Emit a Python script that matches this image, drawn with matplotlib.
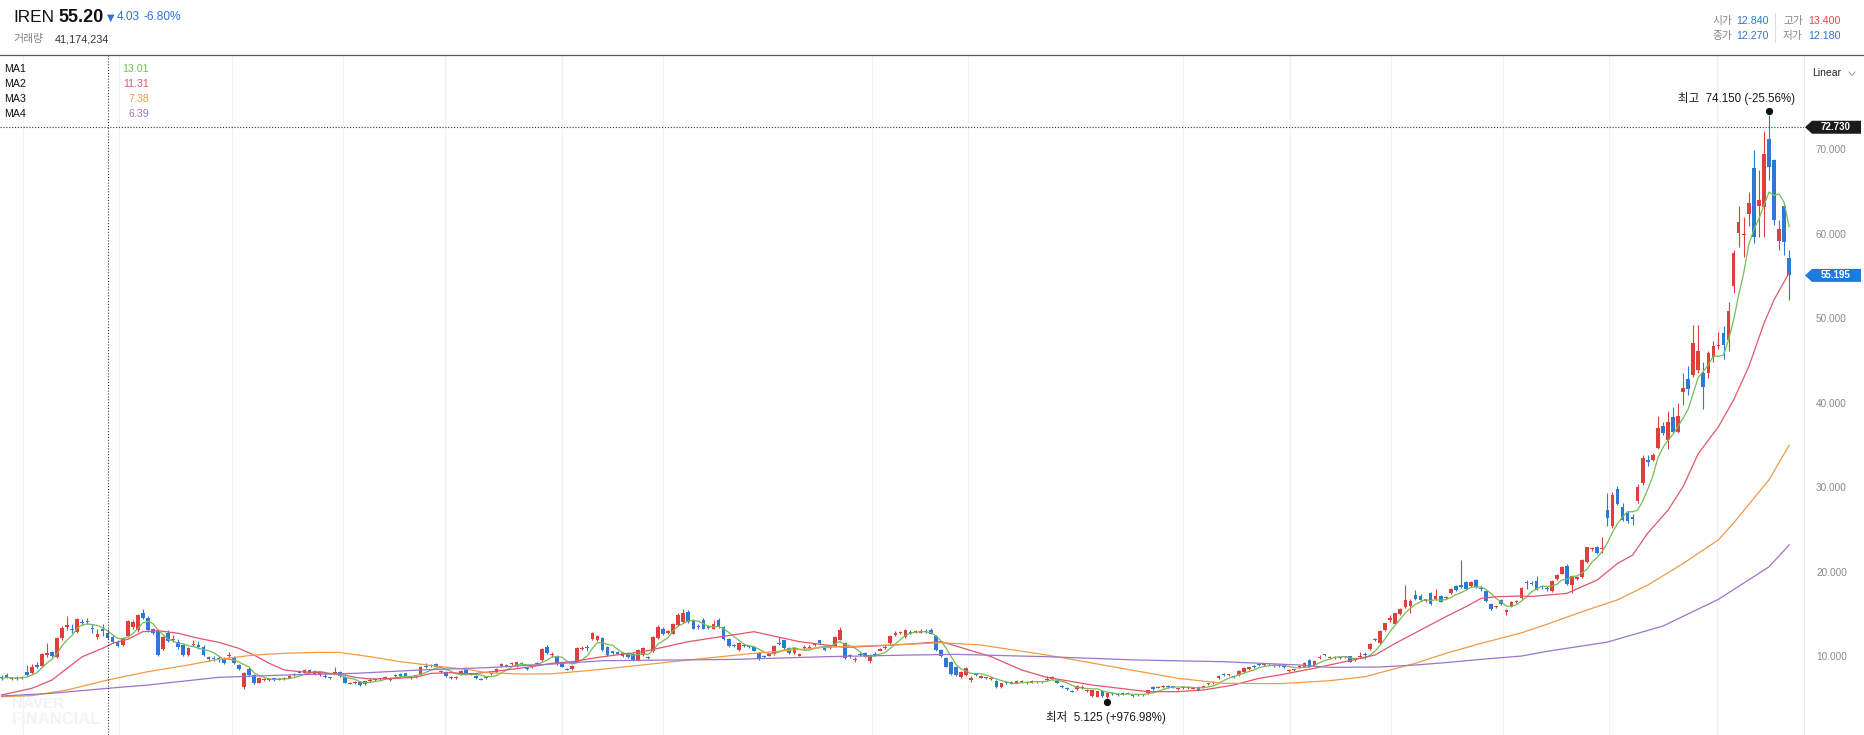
import numpy as np
import pandas as pd
import matplotlib
matplotlib.use('Agg')
import matplotlib.pyplot as plt
from matplotlib.patches import Polygon
from matplotlib.lines import Line2D
from matplotlib.transforms import offset_copy

plt.rcParams['font.family'] = ['Liberation Sans', 'Noto Sans CJK KR', 'DejaVu Sans']

# daily candles, oldest first
opens = [
    7.7, 7.9, 7.4, 7.6, 7.5, 8.3, 8.2, 9.1, 9.0, 10.3,
    10.6, 10.0, 12.3, 13.6, 13.4, 13.0, 14.2, 14.3, 13.5, 12.4,
    13.3, 12.84, 12.4, 11.8, 11.45, 12.5, 13.6, 13.2, 15.3, 14.7,
    13.3, 13.1, 11.0, 12.9, 12.0, 11.8, 11.4, 10.3, 11.4, 11.4,
    11.2, 10.0, 9.9, 9.9, 9.8, 10.1, 10.0, 9.1, 6.5, 8.6,
    7.9, 7.0, 7.35, 7.35, 7.5, 7.45, 7.45, 7.6, 7.9, 8.3,
    8.2, 8.5, 8.0, 7.9, 7.8, 7.6, 8.1, 8.3, 7.7, 6.85,
    6.95, 7.1, 6.8, 7.25, 7.35, 7.45, 7.5, 7.3, 7.75, 8.0,
    8.1, 7.55, 7.75, 8.0, 8.95, 8.95, 9.2, 8.4, 8.3, 7.55,
    7.55, 8.0, 8.6, 8.1, 7.8, 7.45, 7.5, 8.0, 8.3, 9.0,
    9.1, 9.2, 9.0, 9.25, 8.7, 8.85, 9.35, 9.7, 11.2, 10.3,
    10.2, 9.2, 8.65, 8.6, 9.5, 11.0, 11.2, 12.2, 12.0, 12.3,
    11.2, 10.7, 10.6, 10.1, 10.5, 10.4, 9.7, 10.3, 10.05, 10.7,
    12.3, 13.4, 12.9, 12.8, 13.8, 14.2, 15.4, 14.4, 13.75, 14.4,
    13.5, 13.4, 14.4, 13.6, 12.2, 11.45, 10.9, 11.45, 11.35, 11.2,
    10.5, 10.15, 10.2, 10.4, 11.55, 12.0, 11.1, 10.5, 10.2, 11.25,
    11.1, 11.4, 12.0, 11.3, 11.1, 11.3, 12.05, 11.65, 10.25, 9.7,
    10.45, 10.5, 9.6, 10.45, 10.8, 11.1, 11.65, 12.6, 12.85, 12.4,
    13.0, 12.95, 12.9, 13.1, 13.2, 12.5, 10.9, 9.9, 9.5, 8.9,
    7.7, 7.9, 7.3, 8.0, 7.6, 7.6, 7.45, 7.2, 6.5, 7.0,
    7.05, 7.0, 7.1, 7.1, 6.95, 7.05, 7.05, 7.3, 7.45, 7.2,
    6.6, 6.35, 6.05, 6.2, 6.4, 6.05, 5.4, 5.35, 6.0, 5.35,
    5.7, 5.65, 5.8, 5.8, 5.45, 5.5, 5.6, 5.8, 6.5, 6.4,
    6.5, 6.6, 6.55, 6.25, 6.4, 6.4, 6.3, 6.5, 6.5, 6.8,
    6.95, 7.5, 8.0, 7.85, 7.8, 7.9, 8.3, 8.65, 8.95, 9.15,
    9.05, 9.25, 9.0, 9.05, 8.95, 8.4, 8.45, 8.8, 8.85, 9.7,
    9.1, 9.95, 10.35, 9.95, 9.95, 9.95, 10.05, 10.1, 9.65, 10.0,
    10.35, 11.0, 12.1, 11.7, 13.2, 14.4, 14.0, 15.1, 15.9, 16.1,
    17.4, 17.3, 16.7, 17.6, 16.9, 17.2, 17.0, 17.6, 18.4, 18.5,
    18.9, 18.4, 19.1, 18.2, 17.9, 16.3, 15.9, 16.8, 15.4, 16.0,
    16.55, 17.0, 18.9, 18.8, 19.0, 18.4, 18.2, 17.8, 19.3, 19.9,
    20.8, 18.5, 19.3, 19.5, 21.3, 22.8, 23.1, 22.8, 27.4, 25.5,
    29.9, 27.8, 27.1, 26.6, 28.5, 30.6, 33.4, 33.3, 34.8, 37.4,
    35.7, 38.4, 36.7, 41.4, 42.9, 43.4, 44.0, 43.6, 43.7, 45.5,
    46.8, 48.4, 47.6, 53.9, 60.2, 60.0, 62.5, 67.9, 63.4, 63.3,
    71.3, 68.8, 59.3, 63.4, 57.2]
highs = [
    7.9, 8.2, 7.7, 7.8, 7.8, 9.1, 9.2, 9.4, 10.5, 11.7,
    10.8, 12.4, 13.7, 14.9, 13.9, 14.6, 14.5, 14.6, 14.0, 13.3,
    14.0, 13.4, 12.6, 12.0, 12.4, 14.4, 14.4, 15.1, 15.7, 14.9,
    13.5, 13.3, 12.5, 13.2, 12.6, 12.2, 11.6, 11.2, 12.0, 11.9,
    11.4, 10.2, 10.1, 10.1, 10.0, 10.6, 10.2, 9.2, 8.3, 8.9,
    8.0, 7.7, 7.6, 7.6, 7.6, 7.6, 7.7, 7.9, 8.2, 8.5,
    8.6, 8.6, 8.5, 8.4, 8.0, 7.7, 8.9, 8.4, 7.8, 7.1,
    7.2, 7.2, 7.2, 7.5, 7.55, 7.55, 7.75, 7.7, 8.0, 8.1,
    8.2, 7.75, 7.95, 9.0, 9.3, 9.2, 9.3, 8.5, 8.4, 7.75,
    7.75, 8.5, 8.8, 8.2, 7.9, 7.55, 7.7, 8.2, 8.7, 9.3,
    9.2, 9.5, 9.5, 9.4, 8.8, 9.0, 9.5, 11.1, 11.4, 10.6,
    10.3, 9.3, 8.75, 9.1, 11.2, 11.3, 11.5, 13.0, 12.6, 12.4,
    11.3, 10.8, 10.8, 10.6, 10.6, 10.5, 11.0, 11.2, 10.2, 12.5,
    13.8, 13.6, 13.2, 14.1, 15.2, 15.7, 15.6, 14.5, 13.9, 14.6,
    13.8, 14.4, 14.6, 13.7, 12.3, 11.6, 11.8, 11.6, 11.5, 11.3,
    10.6, 10.3, 10.5, 11.4, 12.4, 12.1, 11.2, 11.2, 10.5, 11.4,
    11.4, 11.7, 12.1, 11.4, 11.4, 12.5, 13.6, 11.8, 10.4, 10.0,
    10.6, 10.6, 10.4, 10.6, 11.1, 11.4, 12.6, 13.1, 13.1, 13.4,
    13.2, 13.2, 13.3, 13.3, 13.5, 12.6, 11.0, 10.0, 9.6, 9.0,
    8.4, 8.8, 7.8, 8.1, 7.9, 7.7, 7.65, 7.3, 6.95, 7.15,
    7.2, 7.3, 7.3, 7.2, 7.3, 7.25, 7.25, 7.8, 7.8, 7.3,
    6.7, 6.45, 6.15, 6.7, 6.7, 6.25, 6.15, 6.05, 6.1, 5.85,
    5.85, 5.8, 5.9, 5.9, 5.65, 5.7, 5.7, 6.15, 6.6, 6.6,
    6.75, 6.7, 6.65, 6.4, 6.55, 6.55, 6.45, 6.6, 6.7, 7.0,
    7.15, 7.9, 8.1, 8.05, 7.9, 8.5, 8.8, 8.9, 9.1, 9.3,
    9.25, 9.35, 9.25, 9.15, 9.05, 8.55, 8.65, 9.05, 9.4, 9.8,
    9.7, 10.3, 10.45, 10.15, 10.15, 10.05, 10.2, 10.2, 9.8, 10.6,
    10.6, 11.65, 12.3, 13.2, 14.1, 15.0, 15.3, 15.8, 18.5, 16.9,
    18.0, 17.5, 16.95, 17.7, 18.1, 17.4, 17.25, 18.2, 18.5, 21.5,
    19.0, 19.0, 19.3, 18.4, 18.0, 16.4, 16.1, 16.9, 15.7, 16.7,
    16.8, 18.3, 19.1, 19.0, 19.6, 18.6, 18.4, 19.1, 19.8, 20.8,
    21.0, 19.7, 19.6, 21.6, 23.1, 23.1, 23.2, 24.2, 29.4, 29.6,
    30.3, 28.3, 27.3, 27.0, 30.5, 33.9, 34.0, 34.2, 38.5, 37.8,
    39.1, 39.6, 40.1, 43.6, 44.5, 49.3, 49.3, 45.0, 46.2, 47.4,
    48.5, 49.2, 52.1, 58.2, 63.4, 62.1, 65.1, 70.0, 67.7, 72.3,
    74.15, 69.0, 61.8, 63.6, 58.2]
lows = [
    7.3, 7.6, 7.3, 7.3, 7.4, 7.8, 8.0, 8.7, 8.9, 10.0,
    10.0, 9.9, 12.0, 13.2, 12.9, 12.9, 13.8, 13.9, 12.9, 12.2,
    12.5, 12.18, 11.7, 11.2, 11.3, 12.4, 13.3, 13.0, 14.5, 13.0,
    12.8, 10.2, 10.9, 11.8, 11.8, 11.0, 10.2, 10.1, 11.3, 11.0,
    10.2, 9.6, 9.6, 9.5, 9.2, 9.9, 9.2, 8.5, 6.2, 7.8,
    6.8, 6.9, 7.2, 7.2, 7.25, 7.3, 7.35, 7.5, 7.8, 8.1,
    8.1, 8.1, 7.9, 7.8, 7.6, 7.4, 8.0, 7.7, 6.9, 6.8,
    6.85, 6.6, 6.7, 7.1, 7.2, 7.3, 7.4, 7.2, 7.65, 7.7,
    7.7, 7.45, 7.6, 7.9, 8.7, 8.8, 8.8, 8.2, 7.7, 7.45,
    7.45, 7.9, 8.1, 7.9, 7.4, 7.3, 7.4, 7.9, 8.2, 8.9,
    8.9, 9.1, 8.9, 9.1, 8.5, 8.75, 9.2, 9.6, 10.4, 10.0,
    9.1, 8.8, 8.5, 8.5, 9.4, 10.9, 10.7, 12.0, 11.9, 10.8,
    10.2, 10.4, 10.35, 10.0, 9.9, 9.6, 9.6, 10.2, 9.8, 10.6,
    12.2, 12.6, 12.8, 12.7, 13.7, 14.1, 14.1, 13.3, 13.4, 13.3,
    13.4, 13.3, 13.5, 12.1, 11.2, 11.2, 10.8, 11.2, 11.1, 10.7,
    9.7, 9.9, 10.1, 10.3, 11.5, 11.0, 10.4, 10.4, 10.1, 11.0,
    11.0, 11.3, 11.6, 10.8, 11.0, 11.2, 12.0, 9.8, 9.9, 9.5,
    10.2, 10.0, 9.3, 10.2, 10.7, 11.0, 11.6, 12.5, 12.7, 12.3,
    12.7, 12.85, 12.85, 12.9, 12.7, 10.8, 10.0, 8.8, 7.9, 7.8,
    7.6, 7.8, 7.1, 7.8, 7.5, 7.4, 7.35, 6.4, 6.4, 6.85,
    6.8, 6.95, 7.0, 6.8, 6.9, 6.95, 6.95, 7.2, 7.4, 6.9,
    6.4, 6.15, 5.85, 6.1, 6.3, 5.95, 5.3, 5.25, 5.3, 5.125,
    5.5, 5.45, 5.55, 5.6, 5.35, 5.4, 5.45, 5.7, 6.15, 6.35,
    6.4, 6.4, 6.4, 6.15, 6.3, 6.3, 6.2, 6.0, 6.4, 6.7,
    6.85, 7.4, 7.8, 7.75, 7.6, 7.8, 8.2, 8.55, 8.75, 9.0,
    8.95, 9.05, 8.9, 8.85, 8.75, 8.3, 8.35, 8.7, 8.8, 8.85,
    9.0, 9.85, 10.1, 9.85, 9.85, 9.8, 9.95, 9.4, 9.55, 9.9,
    9.8, 10.9, 11.9, 11.6, 13.1, 14.2, 13.9, 15.0, 15.8, 15.2,
    16.8, 16.7, 16.6, 16.2, 16.8, 16.5, 16.9, 17.5, 17.9, 18.2,
    18.0, 18.3, 18.2, 17.9, 16.6, 15.6, 15.8, 16.2, 15.0, 15.9,
    16.4, 16.9, 18.1, 18.5, 18.0, 18.1, 17.9, 17.7, 19.2, 19.8,
    18.6, 17.6, 19.2, 19.4, 21.2, 22.6, 22.2, 22.4, 25.5, 25.3,
    28.0, 26.1, 25.9, 25.7, 28.3, 30.4, 32.6, 33.2, 34.6, 36.3,
    34.6, 36.5, 36.6, 39.8, 41.0, 43.2, 43.6, 39.4, 43.0, 44.9,
    46.5, 45.3, 46.3, 53.1, 58.6, 57.4, 61.0, 59.0, 59.8, 59.8,
    66.5, 61.2, 58.2, 57.6, 52.3]
closes = [
    7.5, 7.7, 7.55, 7.45, 7.7, 7.9, 8.9, 8.9, 10.4, 10.5,
    10.2, 12.3, 13.5, 13.8, 13.2, 14.5, 14.1, 14.2, 13.3, 12.75,
    13.1, 12.27, 11.85, 11.3, 12.3, 14.3, 14.2, 15.0, 14.6, 13.2,
    12.9, 10.3, 12.4, 11.95, 12.2, 11.2, 10.3, 11.1, 11.6, 11.2,
    10.3, 9.8, 9.75, 9.7, 9.3, 10.3, 9.3, 8.6, 8.2, 7.9,
    6.9, 7.6, 7.45, 7.45, 7.35, 7.35, 7.55, 7.75, 8.05, 8.2,
    8.5, 8.2, 8.4, 8.3, 7.7, 7.5, 8.25, 7.8, 7.0, 6.95,
    7.05, 6.7, 7.2, 7.35, 7.45, 7.38, 7.62, 7.6, 7.85, 7.8,
    7.8, 7.65, 7.85, 8.9, 8.85, 9.05, 8.9, 8.3, 7.8, 7.65,
    7.68, 8.4, 8.2, 8.0, 7.5, 7.35, 7.6, 8.1, 8.6, 9.15,
    9.0, 9.35, 9.4, 9.15, 8.6, 8.95, 9.25, 11.0, 10.5, 10.45,
    9.2, 8.9, 8.55, 9.0, 11.1, 11.15, 11.05, 12.9, 12.5, 10.9,
    10.3, 10.55, 10.45, 10.5, 10.0, 9.7, 10.9, 11.1, 9.9, 12.4,
    13.6, 12.7, 13.1, 14.0, 15.0, 15.2, 14.2, 13.4, 13.6, 13.4,
    13.65, 14.0, 13.6, 12.2, 11.3, 11.3, 11.7, 11.3, 11.2, 10.8,
    9.8, 10.0, 10.35, 11.3, 11.7, 11.1, 10.5, 11.1, 10.35, 11.1,
    11.25, 11.55, 11.65, 10.9, 11.25, 12.4, 13.2, 9.9, 10.1, 9.85,
    10.3, 10.1, 10.3, 10.3, 10.95, 11.25, 12.5, 12.9, 12.95, 13.2,
    12.75, 13.05, 13.1, 13.0, 12.75, 10.9, 10.1, 8.9, 8.0, 7.9,
    8.3, 8.7, 7.6, 7.9, 7.75, 7.5, 7.55, 6.5, 6.9, 6.95,
    6.85, 7.2, 7.2, 6.9, 7.2, 7.15, 7.12, 7.45, 7.7, 7.0,
    6.5, 6.25, 5.95, 6.6, 6.5, 6.15, 6.1, 6.0, 5.4, 5.75,
    5.6, 5.55, 5.7, 5.7, 5.55, 5.6, 5.5, 6.1, 6.2, 6.5,
    6.65, 6.5, 6.45, 6.35, 6.5, 6.5, 6.4, 6.1, 6.6, 6.9,
    7.05, 7.8, 7.9, 7.95, 7.7, 8.4, 8.7, 8.8, 8.85, 9.05,
    9.15, 9.15, 9.1, 8.95, 8.85, 8.48, 8.55, 8.95, 9.3, 8.9,
    9.6, 10.05, 10.25, 10.05, 10.05, 9.88, 10.15, 9.5, 9.72, 10.1,
    10.25, 11.6, 12.0, 13.1, 14.05, 14.6, 15.2, 15.7, 16.8, 16.7,
    16.9, 16.8, 16.85, 16.3, 17.2, 16.6, 17.15, 18.1, 18.0, 18.35,
    18.1, 18.9, 18.3, 18.05, 16.7, 15.7, 16.0, 16.3, 15.55, 16.6,
    16.65, 18.2, 18.75, 18.65, 18.1, 18.3, 18.1, 19.0, 19.7, 20.7,
    18.7, 19.6, 19.45, 21.5, 23.0, 22.95, 22.3, 22.95, 26.5, 29.2,
    28.2, 26.2, 26.1, 26.4, 30.2, 33.6, 33.1, 33.9, 37.1, 36.5,
    37.8, 36.7, 38.6, 41.9, 41.8, 47.2, 46.2, 42.0, 46.0, 46.9,
    47.0, 47.0, 51.0, 57.8, 61.5, 60.15, 63.8, 59.8, 64.1, 69.6,
    68.0, 61.8, 60.7, 59.1, 55.2]

# moving averages (candle index, value)
ma2_idx = [0, 6, 10, 13, 16, 20, 22, 25, 28, 31, 35, 39, 43, 47, 50, 53, 56, 59, 63, 67,
           70, 73, 78, 82, 85, 89, 93, 97, 101, 105, 109, 113, 117, 119, 127, 136, 149, 158,
           167, 173, 180, 186, 189, 196, 202, 207, 216, 227, 233, 238, 244, 249, 253, 260,
           266, 272, 276, 281, 286, 290, 293, 296, 301, 303, 310, 313, 316, 320, 323, 326,
           330, 333, 336, 340, 343, 346, 349, 351, 354]
ma2_val = [5.54, 6.33, 7.31, 8.7, 10.07, 11.06, 11.65, 12.13, 13.03, 13.15, 12.84, 12.25,
           11.78, 11.06, 10.27, 9.29, 8.5, 8.3, 8.18, 8.02, 7.63, 7.43, 7.51, 7.63, 8.1, 8.18,
           8.02, 8.3, 8.58, 8.89, 9.29, 9.48, 9.88, 10.07, 10.66, 11.85, 13.03, 11.85, 11.18,
           11.34, 11.57, 11.85, 11.34, 10.07, 8.5, 7.63, 6.72, 5.93, 5.93, 6.13, 6.72, 7.51,
           7.9, 8.7, 9.48, 10.27, 11.65, 13.23, 14.8, 15.99, 16.98, 17.17, 17.25, 17.2, 17.57,
           18.36, 19.15, 21.1, 22.1, 24.7, 27.4, 30.2, 34.1, 37.3, 40.45, 44.4, 49.5, 52.3, 55.5]
ma3_idx = [0, 6, 13, 21, 29, 37, 43, 50, 56, 63, 67, 73, 79, 86, 93, 96, 103, 109, 116, 120,
           136, 149, 163, 176, 186, 194, 207, 220, 233, 242, 253, 263, 270, 275, 280, 286,
           293, 301, 306, 313, 320, 326, 333, 340, 343, 350, 354]
ma3_val = [5.34, 5.46, 6.13, 7.31, 8.3, 9.09, 9.76, 10.27, 10.47, 10.59, 10.57, 10.07, 9.48,
           8.97, 8.5, 8.18, 8.02, 8.05, 8.42, 8.65, 9.68, 10.47, 11.18, 11.45, 11.73, 11.45,
           10.27, 8.89, 7.51, 6.92, 6.88, 7.23, 7.7, 8.5, 9.29, 10.47, 11.65, 12.9, 13.9, 15.4,
           16.8, 18.55, 21.1, 23.9, 25.9, 31.0, 35.1]
ma4_idx = [0, 10, 21, 29, 43, 56, 70, 83, 96, 109, 119, 145, 163, 180, 189, 207, 225, 242,
           257, 263, 273, 280, 286, 293, 301, 306, 318, 329, 340, 344, 350, 354]
ma4_val = [5.42, 5.74, 6.33, 6.72, 7.63, 7.9, 8.1, 8.5, 8.77, 9.2, 9.6, 9.75, 10.07, 10.27,
           10.35, 10.07, 9.68, 9.48, 9.09, 8.81, 8.85, 9.09, 9.37, 9.76, 10.15, 10.7, 11.8,
           13.7, 16.86, 18.4, 20.7, 23.3]

ma_names = ['MA1', 'MA2', 'MA3', 'MA4']
ma_cursor = ['13.01', '11.31', '7.38', '6.39']
ytick_vals = [10, 20, 30, 40, 50, 60, 70]
cursor_idx, cursor_price = 21, 72.73
last_price = 55.195

RED, BLUE = '#e0403d', '#2c79d6'
MA_COLORS = ['#76bd55', '#e0576a', '#f19a48', '#9d74cb']

W, H = 1864, 735
TOP = 55
fig = plt.figure(figsize=(W / 100, H / 100), dpi=100, facecolor='white')
ax = fig.add_axes([0, 0, 1804 / W, (H - TOP) / H])
ax.set_facecolor('white')
ax.set_xlim(-0.3, 356.94)
ax.set_ylim(0.805, 81.28)
for s in ax.spines.values():
    s.set_visible(False)
ax.set_xticks([])
ax.set_yticks([])


def fx(x):
    return x / W


def fy(y):
    return 1 - y / H


# faint vertical grid
for g in [4.3, 23.3, 45.6, 67.6, 87.8, 111, 131, 172.4, 191.4, 234, 255.2, 275.1,
          297.3, 318.3, 339.7]:
    ax.axvline(g, color='#f1f1f3', lw=0.8, zorder=0)

# candles
idx = np.arange(len(closes))
o = np.array(opens)
h = np.array(highs)
l = np.array(lows)
c = np.array(closes)
col = np.where(c >= o, RED, BLUE)
ax.vlines(idx, np.minimum(l, np.minimum(o, c)), np.maximum(h, np.maximum(o, c)),
          colors=col, lw=0.8, zorder=2)
ax.bar(idx, np.maximum(np.abs(c - o), 0.12), bottom=np.minimum(o, c), width=0.72,
       color=col, lw=0, zorder=2)

# moving averages
ma1 = pd.Series(closes).rolling(5, min_periods=1).mean()
ax.plot(idx, ma1, color=MA_COLORS[0], lw=0.9, zorder=3)
ax.plot(ma2_idx, ma2_val, color=MA_COLORS[1], lw=0.9, zorder=3)
ax.plot(ma3_idx, ma3_val, color=MA_COLORS[2], lw=0.9, zorder=3)
ax.plot(ma4_idx, ma4_val, color=MA_COLORS[3], lw=0.9, zorder=3)

# crosshair
ax.axvline(cursor_idx, color='#333333', lw=0.8, ls=(0, (1, 1.6)), zorder=4)
ax.axhline(cursor_price, color='#333333', lw=0.8, ls=(0, (1, 1.6)), zorder=4)

# high / low markers
hi_i = int(np.argmax(highs))
lo_i = int(np.argmin(lows))
up4 = offset_copy(ax.transData, fig=fig, x=0, y=4, units='dots')
dn4 = offset_copy(ax.transData, fig=fig, x=0, y=-4, units='dots')
ax.plot(hi_i, highs[hi_i], 'o', ms=4.2, color='#111111', transform=up4, zorder=5)
ax.plot(lo_i, lows[lo_i], 'o', ms=4.2, color='#111111', transform=dn4, zorder=5)
ax.annotate('최고  74.150 (-25.56%)', xy=(hi_i, highs[hi_i]), xytext=(-32, 17),
            textcoords='offset pixels', ha='center', va='center', fontsize=8.3, color='#1a1a1a')
ax.annotate('최저  5.125 (+976.98%)', xy=(lo_i, lows[lo_i]), xytext=(-2, -19),
            textcoords='offset pixels', ha='center', va='center', fontsize=8.3, color='#1a1a1a')

# watermark
fig.text(fx(12), fy(704), 'NAVER', fontsize=11, fontweight='bold', color='#f1f3f6', va='center')
fig.text(fx(12), fy(719), 'FINANCIAL', fontsize=12, fontweight='bold', color='#f1f3f6',
         va='center')

# right axis
fig.add_artist(Line2D([fx(1804), fx(1804)], [0, fy(TOP)], color='#ededed', lw=0.8))
for v in ytick_vals:
    ax.text(1816 / 1804, v, f'{v:.3f}', transform=ax.get_yaxis_transform(), fontsize=7.2,
            color='#8a8a8a', ha='left', va='center', clip_on=False)


def price_tag(val, face, label):
    yd = ax.transData.transform((0, val))[1]
    yc = H - yd
    pts = [(1805, yc), (1812, yc - 6.5), (1861, yc - 6.5), (1861, yc + 6.5), (1812, yc + 6.5)]
    fig.add_artist(Polygon([(fx(x), fy(y)) for x, y in pts], closed=True, facecolor=face,
                           edgecolor='none', zorder=6))
    fig.text(fx(1836), fy(yc), label, fontsize=7, fontweight='bold', color='white',
             ha='center', va='center', zorder=7)


price_tag(cursor_price, '#1b1b1b', f'{cursor_price:.3f}')
price_tag(last_price, '#1f7ae0', f'{last_price:.3f}')

fig.text(fx(1812), fy(73), 'Linear', fontsize=7.5, color='#222222', va='center')
fig.add_artist(Line2D([fx(1849), fx(1852), fx(1855)], [fy(72), fy(75.5), fy(72)],
                      color='#9a9a9a', lw=0.7))

# header
fig.add_artist(Line2D([0, 1], [fy(TOP), fy(TOP)], color='#555555', lw=0.9))
fig.text(fx(13), fy(18), 'IREN', fontsize=12.4, color='#111111', va='center')
fig.text(fx(58), fy(18), '55.20', fontsize=13, fontweight='bold', color='#111111', va='center')
fig.text(fx(107), fy(17.5), '▼', fontsize=7, color='#2d73d6', va='center',
         family=['DejaVu Sans'])
fig.text(fx(117), fy(17.5), '4.03', fontsize=8.6, color='#2d73d6', va='center')
fig.text(fx(144), fy(17.5), '-6.80%', fontsize=8.6, color='#2d73d6', va='center')
fig.text(fx(13), fy(39), '거래량', fontsize=7.8, color='#808080', va='center')
fig.text(fx(55), fy(39), '41,174,234', fontsize=7.8, color='#333333', va='center')

fig.text(fx(1712), fy(21), '시가', fontsize=7.7, color='#888888', va='center')
fig.text(fx(1736), fy(21), '12.840', fontsize=7.7, color='#2d73d6', va='center')
fig.text(fx(1712), fy(36), '종가', fontsize=7.7, color='#888888', va='center')
fig.text(fx(1736), fy(36), '12.270', fontsize=7.7, color='#2d73d6', va='center')
fig.text(fx(1783), fy(21), '고가', fontsize=7.7, color='#888888', va='center')
fig.text(fx(1808), fy(21), '13.400', fontsize=7.7, color='#e0454a', va='center')
fig.text(fx(1783), fy(36), '저가', fontsize=7.7, color='#888888', va='center')
fig.text(fx(1808), fy(36), '12.180', fontsize=7.7, color='#2d73d6', va='center')
fig.add_artist(Line2D([fx(1775), fx(1775)], [fy(13), fy(42)], color='#dddddd', lw=0.8))

# MA legend
for i, (name, val) in enumerate(zip(ma_names, ma_cursor)):
    yy = 69 + 15 * i
    fig.text(fx(4), fy(yy), name, fontsize=7.7, color='#111111', va='center')
    fig.text(fx(149), fy(yy), val, fontsize=7.7, color=MA_COLORS[i], va='center', ha='right')

fig.savefig('out.png', dpi=100, facecolor='white')
